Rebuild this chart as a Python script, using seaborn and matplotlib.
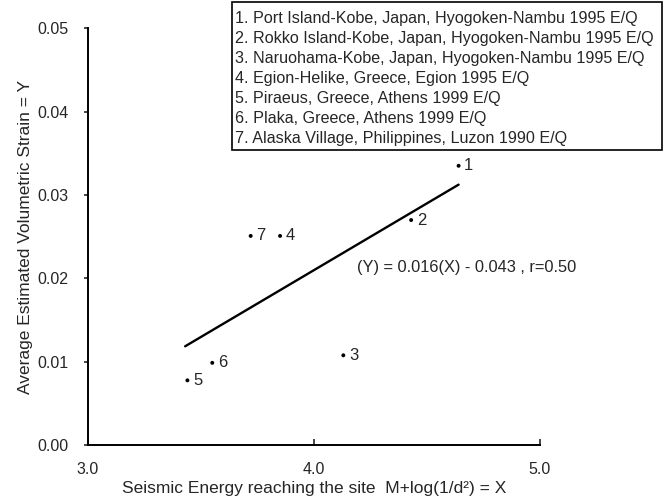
import numpy as np
import pandas as pd
import seaborn as sns
import matplotlib.pyplot as plt
from matplotlib.patches import Rectangle

# Datos
site_ids = ["1", "2", "3", "4", "5", "6", "7"]
site_names = [
    "1. Port Island-Kobe, Japan, Hyogoken-Nambu 1995 E/Q",
    "2. Rokko Island-Kobe, Japan, Hyogoken-Nambu 1995 E/Q",
    "3. Naruohama-Kobe, Japan, Hyogoken-Nambu 1995 E/Q",
    "4. Egion-Helike, Greece, Egion 1995 E/Q",
    "5. Piraeus, Greece, Athens 1999 E/Q",
    "6. Plaka, Greece, Athens 1999 E/Q",
    "7. Alaska Village, Philippines, Luzon 1990 E/Q",
]
energy = [4.64, 4.43, 4.13, 3.85, 3.44, 3.55, 3.72]
strain = [0.0335, 0.027, 0.0108, 0.0251, 0.0078, 0.0099, 0.0251]

slope = 0.016
intercept = -0.043
fit_x = [3.43, 4.64]

x_ticks = [3.0, 4.0, 5.0]
y_ticks = [0.00, 0.01, 0.02, 0.03, 0.04, 0.05]

datos = pd.DataFrame({"site": site_ids, "X": energy, "Y": strain})
recta = pd.DataFrame({"X": fit_x})
recta["Y"] = slope * recta["X"] + intercept

sns.set_style("ticks")
plt.rcParams["font.family"] = ["Liberation Sans", "DejaVu Sans"]

fig = plt.figure(figsize=(6.71, 5.01), dpi=100)
ax = fig.add_axes([0.1311, 0.1108, 0.6736, 0.8333])

sns.scatterplot(data=datos, x="X", y="Y", color="black", s=8, edgecolor="none", ax=ax)
sns.lineplot(data=recta, x="X", y="Y", color="black", linewidth=1.7, ax=ax)

for _, row in datos.iterrows():
    ax.annotate(row["site"], (row["X"], row["Y"]), xytext=(4, 0), textcoords="offset points",
                ha="left", va="center", fontsize=12)

ax.text(4.19, 0.0213, "(Y) = 0.016(X) - 0.043 , r=0.50", ha="left", va="center", fontsize=11.8)

ax.set_xlim(3.0, 5.0)
ax.set_ylim(0.0, 0.05)
ax.set_xticks(x_ticks)
ax.set_yticks(y_ticks)
ax.set_xticklabels([f"{v:.1f}" for v in x_ticks], fontsize=11.5)
ax.set_yticklabels([f"{v:.2f}" for v in y_ticks], fontsize=11.5)
ax.tick_params(axis="x", direction="in", length=4, pad=12, width=1.2)
ax.tick_params(axis="y", direction="out", length=3, pad=11, width=1.2)
sns.despine(ax=ax)
for s in ["left", "bottom"]:
    ax.spines[s].set_linewidth(1.4)
    ax.spines[s].set_color("black")

ax.set_xlabel("Seismic Energy reaching the site  M+log(1/d\u00b2) = X", fontsize=12.5)
ax.set_ylabel("Average Estimated Volumetric Strain = Y", fontsize=12.5)
ax.xaxis.set_label_coords(0.5, -0.085)
ax.yaxis.set_label_coords(-0.122, 0.5)

# Cuadro con la lista de sitios
fig.patches.append(Rectangle((232 / 671, 1 - 150 / 501), 430 / 671, 148 / 501,
                             transform=fig.transFigure, fill=True, facecolor="white",
                             edgecolor="black", linewidth=1.2))
for i, nombre in enumerate(site_names):
    fig.text(235 / 671, 1 - (18 + 20 * i) / 501, nombre, ha="left", va="center", fontsize=11.6)

plt.savefig("out.png", dpi=100)
plt.close()
